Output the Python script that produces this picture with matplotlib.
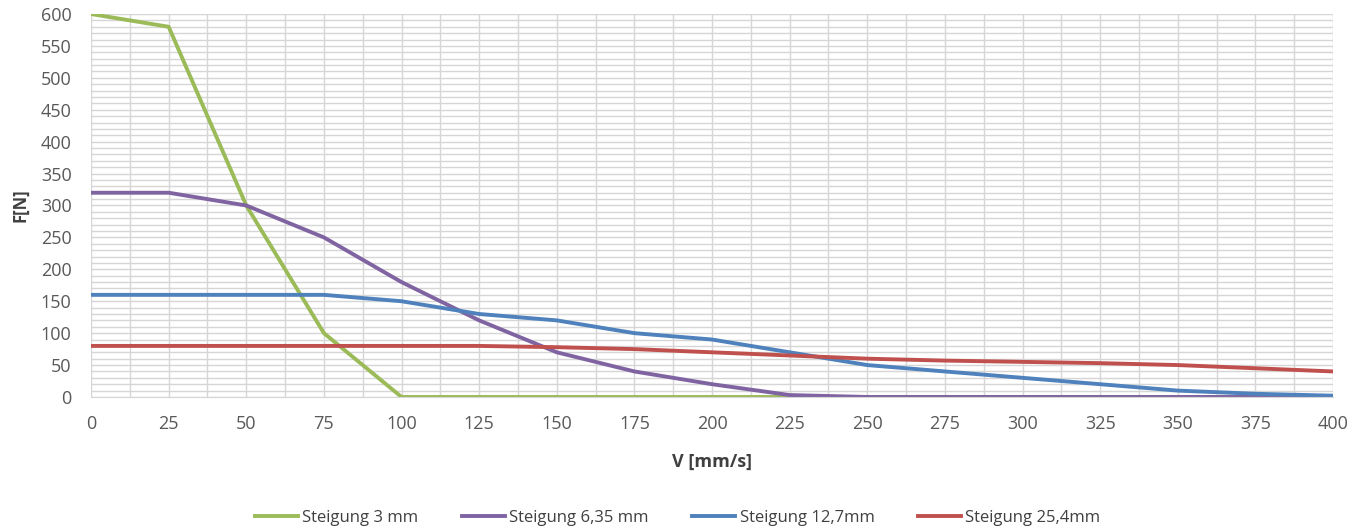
import numpy as np
import matplotlib.pyplot as plt
from matplotlib.ticker import MultipleLocator

# V [mm/s]
v = [0, 25, 50, 75, 100, 125, 150, 175, 200, 225, 250, 275, 300, 325, 350, 375, 400]

# F [N] per Steigung
f_3mm = [600, 580, 300, 100, 0, 0, 0, 0, 0, 0, 0, 0, 0, 0, 0, 0, 0]
f_635mm = [320, 320, 300, 250, 180, 120, 70, 40, 20, 3, 0, 0, 0, 0, 0, 0, 0]
f_127mm = [160, 160, 160, 160, 150, 130, 120, 100, 90, 70, 50, 40, 30, 20, 10, 5, 2]
f_254mm = [80, 80, 80, 80, 80, 80, 78, 75, 70, 65, 60, 57, 55, 53, 50, 45, 40]

labels = ["Steigung 3 mm", "Steigung 6,35 mm", "Steigung 12,7mm", "Steigung 25,4mm"]
colors = ["#9BBB59", "#8064A2", "#4F81BD", "#C0504D"]

plt.rcParams["font.family"] = ["Open Sans", "DejaVu Sans"]

fig = plt.figure(figsize=(13.69, 5.31), dpi=100)
ax = fig.add_axes([0.0665, 0.2524, 0.9072, 0.7212])

for series, label, color in zip([f_3mm, f_635mm, f_127mm, f_254mm], labels, colors):
    ax.plot(v, series, color=color, linewidth=2.8, label=label, solid_joinstyle="round")

ax.set_xlim(0, 400)
ax.set_ylim(0, 600)
ax.xaxis.set_major_locator(MultipleLocator(25))
ax.xaxis.set_minor_locator(MultipleLocator(12.5))
ax.yaxis.set_major_locator(MultipleLocator(50))
ax.yaxis.set_minor_locator(MultipleLocator(10))

ax.grid(which="both", color="#D6D6D6", linewidth=1)
ax.set_axisbelow(True)
for side in ["top", "right", "left"]:
    ax.spines[side].set_visible(False)
ax.spines["bottom"].set_color("#D6D6D6")

ax.tick_params(which="both", length=0, labelsize=13, labelcolor="#595959")
ax.tick_params(axis="x", pad=13)
ax.tick_params(axis="y", pad=14)

ax.set_xlabel("V [mm/s]", fontsize=13, fontweight="bold", color="#404040", labelpad=14)
ax.set_ylabel("F[N]", fontsize=12, fontweight="bold", color="#404040", labelpad=8)

fig.legend(
    loc="lower center",
    bbox_to_anchor=(0.495, -0.018),
    ncol=4,
    frameon=False,
    fontsize=12,
    handlelength=2.6,
    handletextpad=0.25,
    columnspacing=2.6,
    labelcolor="#404040",
)

fig.savefig("out.png", dpi=100)
